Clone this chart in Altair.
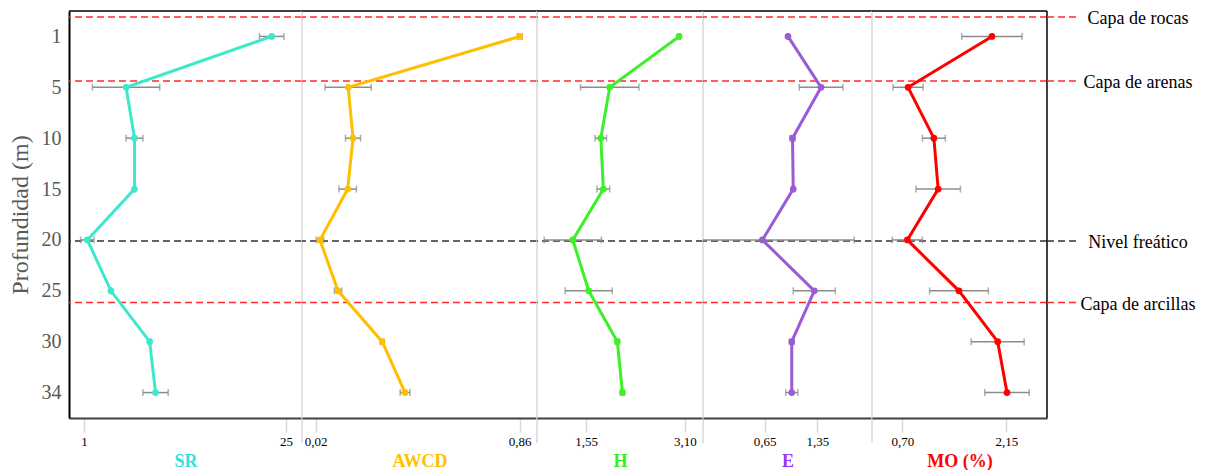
import altair as alt
import pandas as pd

# ---------------- data ----------------
depth_labels = ["1", "5", "10", "15", "20", "25", "30", "34"]

sr = [23.3, 6.0, 7.0, 7.0, 1.4, 4.2, 8.8, 9.5]
sr_err = [1.45, 4.0, 1.0, 0.0, 0.8, 0.0, 0.0, 1.5]
awcd = [0.86, 0.154, 0.174, 0.152, 0.038, 0.112, 0.294, 0.388]
awcd_err = [0.01, 0.095, 0.031, 0.036, 0.015, 0.015, 0.008, 0.02]
h_vals = [3.01, 1.92, 1.78, 1.82, 1.34, 1.59, 2.04, 2.12]
h_err = [0.02, 0.46, 0.09, 0.10, 0.45, 0.37, 0.03, 0.03]
e_vals = [0.96, 1.40, 1.02, 1.03, 0.62, 1.31, 1.01, 1.01]
e_err = [0.0, 0.29, 0.03, 0.02, 1.22, 0.28, 0.03, 0.08]
mo = [1.95, 0.78, 1.14, 1.20, 0.77, 1.49, 2.03, 2.16]
mo_err = [0.42, 0.21, 0.16, 0.31, 0.21, 0.41, 0.37, 0.31]

# reference layers (position on the depth-index axis)
ref_labels = ["Capa de rocas", "Capa de arenas", "Nivel freático", "Capa de arcillas"]
ref_pos = [-0.38, 0.875, 4.02, 5.23]
ref_kind = ["capa", "capa", "freatico", "capa"]

FONT = "Liberation Serif"
H = 407
Y_DOMAIN = [-0.5, 7.5]

ref_df = pd.DataFrame({"label": ref_labels, "pos": ref_pos, "kind": ref_kind})
one = pd.DataFrame({"a": [0]})

label_expr = "[" + ",".join("'%s'" % l for l in depth_labels) + "][datum.value]"


def yscale():
    return alt.Scale(domain=Y_DOMAIN, reverse=True, nice=False, zero=False)


def panel(vals, errs, color, title_color, title, domain, ticks, fmt, width, first=False, last=False):
    df = pd.DataFrame({"idx": list(range(len(vals))), "v": vals, "err": errs})
    df["lo"] = df["v"] - df["err"]
    df["hi"] = df["v"] + df["err"]
    xs = alt.Scale(domain=domain, nice=False, zero=False)
    xaxis = alt.Axis(
        values=ticks,
        labelExpr="replace(format(datum.value, '%s'), '.', ',')" % fmt,
        title=title,
        titleColor=title_color,
        titleFont=FONT,
        titleFontSize=18,
        titleFontWeight="bold",
        titlePadding=4,
        labelFont=FONT,
        labelFontSize=13,
        labelColor="black",
        labelPadding=3,
        tickColor="#d9d9d9",
        tickWidth=1.5,
        tickSize=14,
        domainColor="#404040",
        domainWidth=2,
        grid=False,
    )
    yaxis = None
    if first:
        yaxis = alt.Axis(
            values=list(range(len(depth_labels))),
            labelExpr=label_expr,
            labelFont=FONT,
            labelFontSize=20,
            labelColor="#595959",
            labelPadding=8,
            ticks=False,
            domainColor="black",
            domainWidth=2,
            grid=False,
            title="Profundidad (m)",
            titleFont=FONT,
            titleFontSize=24,
            titleFontWeight="normal",
            titleColor="#595959",
            titlePadding=9,
        )

    def Y(field):
        return alt.Y(field, scale=yscale(), axis=yaxis)

    refs = alt.Chart(ref_df).mark_rule(strokeDash=[7, 4], strokeWidth=1.5).encode(
        y=Y("pos:Q"),
        color=alt.Color("kind:N", scale=alt.Scale(domain=["capa", "freatico"], range=["#ff2a2a", "#333333"]), legend=None),
    )
    base = alt.Chart(df)
    err_rule = base.mark_rule(color="#8c8c8c", strokeWidth=1.5, clip=True).encode(
        x=alt.X("lo:Q", scale=xs, axis=xaxis), x2="hi:Q", y=Y("idx:Q")
    )
    cap_lo = base.mark_tick(color="#8c8c8c", orient="vertical", size=7, thickness=1.5, clip=True).encode(
        x=alt.X("lo:Q", scale=xs, axis=xaxis), y=Y("idx:Q")
    )
    cap_hi = base.mark_tick(color="#8c8c8c", orient="vertical", size=7, thickness=1.5, clip=True).encode(
        x=alt.X("hi:Q", scale=xs, axis=xaxis), y=Y("idx:Q")
    )
    line = base.mark_line(color=color, strokeWidth=3).encode(
        x=alt.X("v:Q", scale=xs, axis=xaxis), y=Y("idx:Q"), order="idx:Q"
    )
    pts = base.mark_circle(color=color, size=45, opacity=1).encode(
        x=alt.X("v:Q", scale=xs, axis=xaxis), y=Y("idx:Q")
    )
    top = alt.Chart(one).mark_rule(color="black", strokeWidth=1.5).encode(
        x=alt.value(0), x2=alt.value(width), y=alt.value(0)
    )
    layers = [refs, err_rule, cap_lo, cap_hi, line, pts, top]
    if last:
        layers.append(alt.Chart(one).mark_rule(color="black", strokeWidth=1.5).encode(
            x=alt.value(width), y=alt.value(0), y2=alt.value(H)))
    else:
        layers.append(alt.Chart(one).mark_rule(color="#d9d9d9", strokeWidth=1.5).encode(
            x=alt.value(width), y=alt.value(0), y2=alt.value(H + 25)))
    return alt.layer(*layers).properties(width=width, height=H)


p1 = panel(sr, sr_err, "#3ee8cc", "#33e0e0", "SR", [-0.78, 26.9], [1, 25], "d", 233, first=True)
p2 = panel(awcd, awcd_err, "#ffbf00", "#ffc000", "AWCD", [-0.036, 0.931], [0.02, 0.86], ".2f", 235)
p3 = panel(h_vals, h_err, "#3ef02a", "#33ee22", "H", [0.777, 3.386], [1.55, 3.10], ".2f", 166)
p4 = panel(e_vals, e_err, "#9b5bd4", "#9933ff", "E", [-0.17, 2.077], [0.65, 1.35], ".2f", 169)
p5 = panel(mo, mo_err, "#ff0000", "#ff0000", "MO (%)", [0.277, 2.718], [0.70, 2.15], ".2f", 175, last=True)

lab_rules = alt.Chart(ref_df).mark_rule(strokeDash=[7, 4], strokeWidth=1.5).encode(
    x=alt.value(0), x2=alt.value(32),
    y=alt.Y("pos:Q", scale=yscale(), axis=None),
    color=alt.Color("kind:N", scale=alt.Scale(domain=["capa", "freatico"], range=["#ff2a2a", "#333333"]), legend=None),
)
lab_text = alt.Chart(ref_df).mark_text(font=FONT, fontSize=18, color="black", align="center", baseline="middle", dy=2).encode(
    x=alt.value(91), y=alt.Y("pos:Q", scale=yscale(), axis=None), text="label:N"
)
p6 = alt.layer(lab_rules, lab_text).properties(width=150, height=H)

chart = alt.hconcat(p1, p2, p3, p4, p5, p6, spacing=0, bounds="flush").resolve_scale(
    x="independent", y="independent", color="independent"
).properties(
    padding={"left": 0, "top": 2, "right": 0, "bottom": 0}
).configure(font=FONT).configure_view(stroke=None)

chart.save("out.html", embed_options={"renderer": "svg", "actions": False})
